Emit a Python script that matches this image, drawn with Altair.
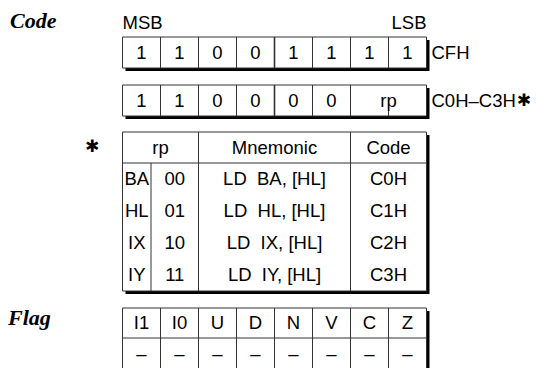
import altair as alt
import pandas as pd

# ---------------- content ----------------
code_bits = ["1", "1", "0", "0", "1", "1", "1", "1"]
code_hex = "CFH"
code2_bits = ["1", "1", "0", "0", "0", "0"]
code2_field = "rp"
code2_hex = "C0H–C3H"
star_mark = "✱"
table_header = ["rp", "Mnemonic", "Code"]
rp_regs = ["BA", "HL", "IX", "IY"]
rp_codes = ["00", "01", "10", "11"]
mnemonics = ["LD\u00a0 BA, [HL]", "LD\u00a0 HL, [HL]", "LD\u00a0 IX, [HL]", "LD\u00a0 IY, [HL]"]
op_codes = ["C0H", "C1H", "C2H", "C3H"]
flag_names = ["I1", "I0", "U", "D", "N", "V", "C", "Z"]
flag_values = ["–", "–", "–", "–", "–", "–", "–", "–"]

# ---------------- layout (page pixels) ----------------
X0, CW = 122.5, 38.0
X1 = X0 + 8 * CW
R1 = (37, 68)
R2 = (85, 116)
T_TOP, T_HEAD, T_ROW = 132, 163, 32
T_BOT = T_HEAD + 4 * T_ROW
T_COLS = [X0, 151, X0 + 2 * CW, X0 + 6 * CW, X1]
F_TOP, F_MID, F_BOT = 308, 338, 369
SH = 3
LINE = "#333333"
FS = 18.5

boxes, rules = [], []
txt_c, txt_l = [], []

def box(x, x2, y, y2):
    boxes.append(dict(x=x, x2=x2, y=y, y2=y2))

def rule(x, x2, y, y2, w=1.0):
    rules.append(dict(x=x, x2=x2, y=y, y2=y2, w=w))

# register 1
box(X0, X1, *R1)
for i in range(1, 8):
    rule(X0 + i * CW, X0 + i * CW, R1[0], R1[1], 1.6 if i == 4 else 1.0)
for i, b in enumerate(code_bits):
    txt_c.append(dict(x=X0 + (i + 0.5) * CW, y=(R1[0] + R1[1]) / 2, t=b))
txt_l.append(dict(x=X1 + 5, y=(R1[0] + R1[1]) / 2, t=code_hex))

# register 2
box(X0, X1, *R2)
for i in range(1, 7):
    rule(X0 + i * CW, X0 + i * CW, R2[0], R2[1], 1.6 if i == 4 else 1.0)
rule(X0 + 7 * CW, X0 + 7 * CW, R2[1] - 8, R2[1])
for i, b in enumerate(code2_bits):
    txt_c.append(dict(x=X0 + (i + 0.5) * CW, y=(R2[0] + R2[1]) / 2, t=b))
txt_c.append(dict(x=X0 + 7 * CW, y=(R2[0] + R2[1]) / 2, t=code2_field))
txt_l.append(dict(x=X1 + 5, y=(R2[0] + R2[1]) / 2, t=code2_hex))

# table
box(T_COLS[0], T_COLS[-1], T_TOP, T_BOT)
rule(T_COLS[0], T_COLS[-1], T_HEAD, T_HEAD)
rule(T_COLS[1], T_COLS[1], T_HEAD, T_BOT)
for c in (T_COLS[2], T_COLS[3]):
    rule(c, c, T_TOP, T_BOT)
hy = (T_TOP + T_HEAD) / 2
head_x = [(T_COLS[0] + T_COLS[2]) / 2, (T_COLS[2] + T_COLS[3]) / 2, (T_COLS[3] + T_COLS[4]) / 2]
for hx, h in zip(head_x, table_header):
    txt_c.append(dict(x=hx, y=hy, t=h))
for r in range(4):
    ry = T_HEAD + (r + 0.5) * T_ROW
    txt_c.append(dict(x=(T_COLS[0] + T_COLS[1]) / 2, y=ry, t=rp_regs[r]))
    txt_c.append(dict(x=(T_COLS[1] + T_COLS[2]) / 2, y=ry, t=rp_codes[r]))
    txt_c.append(dict(x=head_x[1], y=ry, t=mnemonics[r]))
    txt_c.append(dict(x=head_x[2], y=ry, t=op_codes[r]))

# flag table
box(X0, X1, F_TOP, F_BOT)
rule(X0, X1, F_MID, F_MID)
for i in range(1, 8):
    rule(X0 + i * CW, X0 + i * CW, F_TOP, F_BOT)
for i, (n, v) in enumerate(zip(flag_names, flag_values)):
    txt_c.append(dict(x=X0 + (i + 0.5) * CW, y=(F_TOP + F_MID) / 2, t=n))
    txt_c.append(dict(x=X0 + (i + 0.5) * CW, y=(F_MID + F_BOT) / 2, t=v))

shadows = [dict(x=b["x"] + SH, x2=b["x2"] + SH, y=b["y"] + SH, y2=b["y2"] + SH) for b in boxes]

titles = pd.DataFrame([dict(x=10, y=28, t="Code"), dict(x=8, y=325, t="Flag")])
# asterisk before the table and the one right after "C0H–C3H"
stars = pd.DataFrame([dict(x=92, y=147, t=star_mark),
                      dict(x=X1 + 5 + FS * 4.556 + 8, y=(R2[0] + R2[1]) / 2, t=star_mark)])
msb = pd.DataFrame([dict(x=X0, y=23, t="MSB")])
lsb = pd.DataFrame([dict(x=X1, y=23, t="LSB")])

xs = alt.Scale(domain=[8, 536])
ys = alt.Scale(domain=[8, 368], reverse=True)
X = lambda f="x": alt.X(f"{f}:Q", scale=xs, axis=None)
Y = lambda f="y": alt.Y(f"{f}:Q", scale=ys, axis=None)

SANS = "Liberation Sans"

shadow_l = alt.Chart(pd.DataFrame(shadows)).mark_rect(fill="black", clip=True).encode(
    x=X(), x2="x2:Q", y=Y(), y2="y2:Q")
box_l = alt.Chart(pd.DataFrame(boxes)).mark_rect(fill="white", stroke=LINE, strokeWidth=1, clip=True).encode(
    x=X(), x2="x2:Q", y=Y(), y2="y2:Q")
rule_l = alt.Chart(pd.DataFrame(rules)).mark_rule(color=LINE, clip=True).encode(
    x=X(), x2="x2:Q", y=Y(), y2="y2:Q", size=alt.Size("w:Q", scale=None, legend=None))
tc_l = alt.Chart(pd.DataFrame(txt_c)).mark_text(font=SANS, fontSize=FS, align="center", baseline="middle", color="black").encode(
    x=X(), y=Y(), text="t:N")
tl_l = alt.Chart(pd.DataFrame(txt_l)).mark_text(font=SANS, fontSize=FS, align="left", baseline="middle", color="black").encode(
    x=X(), y=Y(), text="t:N")
title_l = alt.Chart(titles).mark_text(font="Liberation Serif", fontSize=22, fontStyle="italic", fontWeight="bold",
                                      align="left", baseline="alphabetic", color="black").encode(x=X(), y=Y(), text="t:N")
star_l = alt.Chart(stars).mark_text(font="DejaVu Sans", fontSize=17, align="center", baseline="middle", color="black").encode(
    x=X(), y=Y(), text="t:N")
msb_l = alt.Chart(msb).mark_text(font=SANS, fontSize=FS, align="left", baseline="middle", color="black").encode(
    x=X(), y=Y(), text="t:N")
lsb_l = alt.Chart(lsb).mark_text(font=SANS, fontSize=FS, align="right", baseline="middle", color="black").encode(
    x=X(), y=Y(), text="t:N")

chart = alt.layer(shadow_l, box_l, rule_l, tc_l, tl_l, title_l, star_l, msb_l, lsb_l).properties(
    width=528, height=360, padding=0, autosize="none"
).configure_view(strokeWidth=0)

chart.save("out.html", embed_options={"renderer": "svg", "actions": False})
